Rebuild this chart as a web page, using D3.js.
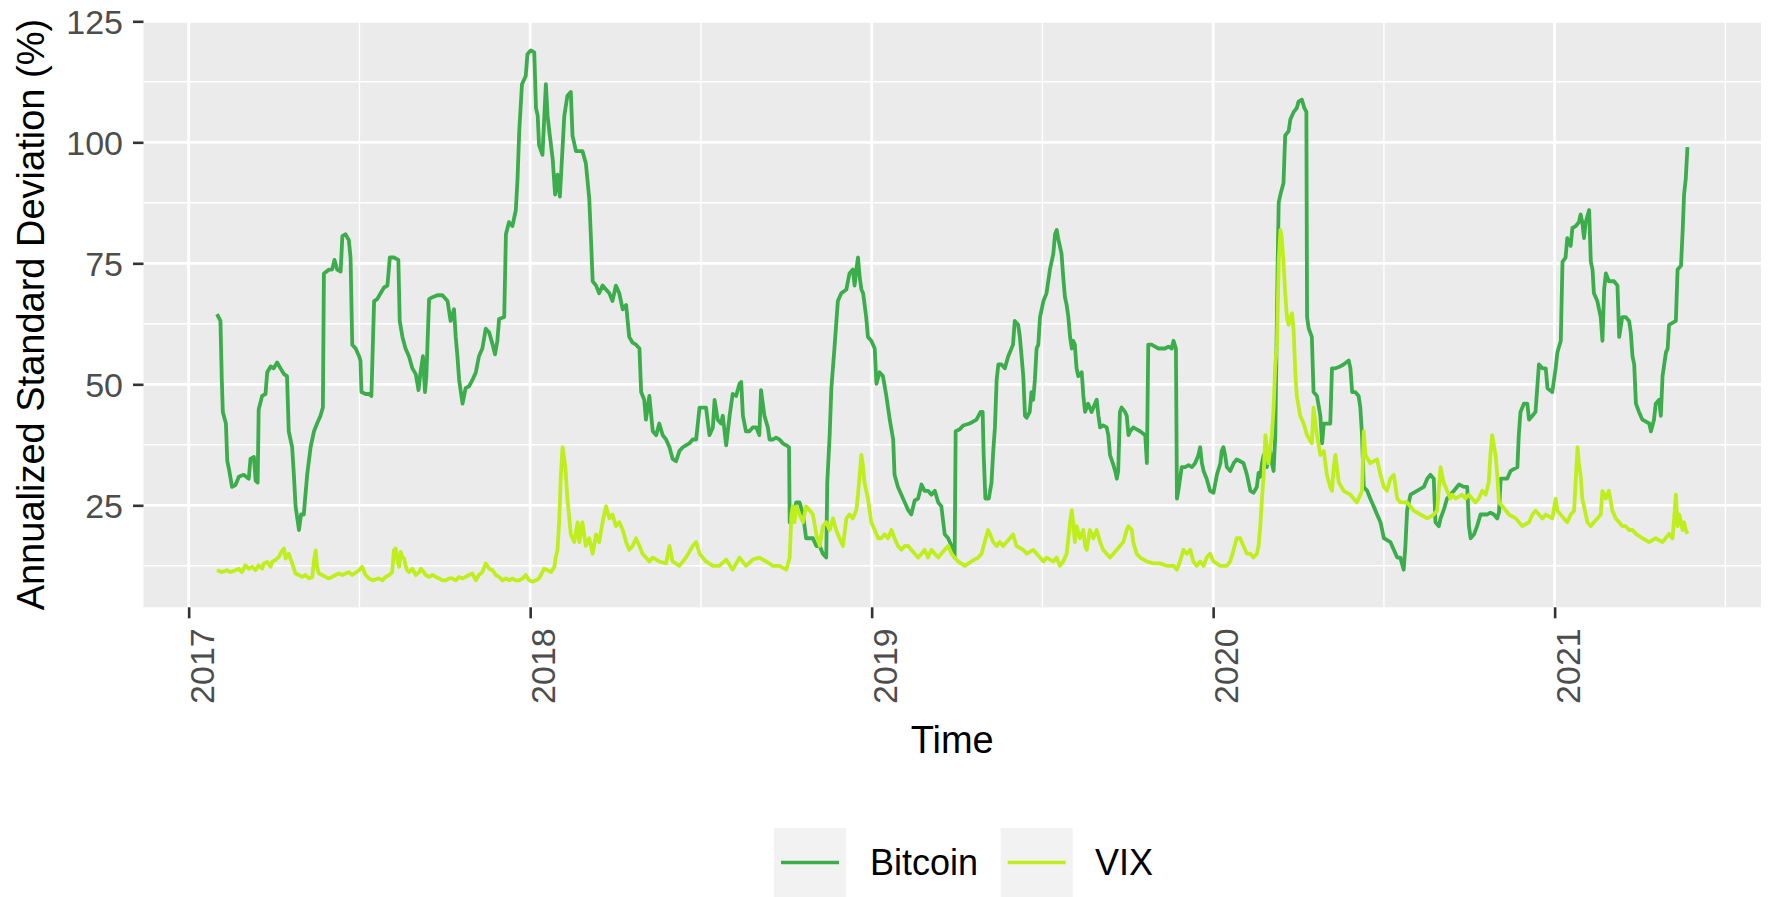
<!DOCTYPE html>
<html>
<head>
<meta charset="utf-8">
<script src="https://cdn.jsdelivr.net/npm/d3@7"></script>
<style>
  html, body { margin: 0; padding: 0; background: #ffffff; }
  svg { display: block; }
</style>
</head>
<body>
<script>
// ---------------- DATA ----------------
const seriesNames = ["Bitcoin", "VIX"];
const xTicks = [2017, 2018, 2019, 2020, 2021];
const yTicks = [25, 50, 75, 100, 125];
const xTitle = "Time";
const yTitle = "Annualized Standard Deviation (%)";

const btcYear = [2017.083,2017.093,2017.097,2017.100,2017.109,2017.113,2017.119,2017.127,2017.137,2017.147,2017.161,2017.176,2017.181,2017.191,2017.196,2017.202,2017.205,2017.215,2017.225,2017.230,2017.240,2017.249,2017.259,2017.269,2017.279,2017.288,2017.293,2017.303,2017.308,2017.313,2017.323,2017.329,2017.337,2017.347,2017.357,2017.367,2017.376,2017.386,2017.393,2017.396,2017.411,2017.420,2017.427,2017.435,2017.445,2017.450,2017.459,2017.469,2017.474,2017.479,2017.489,2017.499,2017.503,2017.506,2017.518,2017.528,2017.535,2017.543,2017.552,2017.562,2017.572,2017.582,2017.589,2017.601,2017.614,2017.618,2017.626,2017.635,2017.645,2017.655,2017.665,2017.673,2017.679,2017.686,2017.692,2017.696,2017.704,2017.714,2017.728,2017.743,2017.758,2017.767,2017.777,2017.782,2017.787,2017.792,2017.802,2017.811,2017.821,2017.831,2017.841,2017.850,2017.860,2017.870,2017.880,2017.890,2017.897,2017.904,2017.909,2017.924,2017.929,2017.938,2017.948,2017.958,2017.963,2017.968,2017.976,2017.987,2017.992,2018.002,2018.012,2018.017,2018.022,2018.026,2018.036,2018.041,2018.046,2018.051,2018.056,2018.066,2018.073,2018.080,2018.087,2018.100,2018.109,2018.119,2018.124,2018.134,2018.153,2018.163,2018.173,2018.178,2018.183,2018.193,2018.202,2018.212,2018.222,2018.232,2018.241,2018.251,2018.261,2018.271,2018.281,2018.290,2018.300,2018.310,2018.320,2018.325,2018.334,2018.339,2018.349,2018.359,2018.369,2018.378,2018.388,2018.398,2018.408,2018.417,2018.427,2018.437,2018.447,2018.456,2018.466,2018.476,2018.486,2018.496,2018.515,2018.525,2018.535,2018.540,2018.549,2018.559,2018.564,2018.574,2018.584,2018.593,2018.603,2018.613,2018.618,2018.623,2018.632,2018.642,2018.652,2018.662,2018.671,2018.676,2018.686,2018.696,2018.701,2018.711,2018.720,2018.730,2018.740,2018.750,2018.758,2018.760,2018.769,2018.779,2018.789,2018.799,2018.808,2018.828,2018.838,2018.848,2018.857,2018.867,2018.870,2018.877,2018.882,2018.891,2018.901,2018.911,2018.926,2018.935,2018.945,2018.950,2018.955,2018.960,2018.965,2018.970,2018.975,2018.984,2018.989,2018.999,2019.009,2019.014,2019.023,2019.033,2019.043,2019.053,2019.063,2019.067,2019.077,2019.087,2019.097,2019.107,2019.116,2019.126,2019.136,2019.146,2019.155,2019.165,2019.175,2019.185,2019.195,2019.204,2019.214,2019.224,2019.234,2019.243,2019.246,2019.258,2019.268,2019.287,2019.297,2019.307,2019.319,2019.325,2019.328,2019.333,2019.343,2019.351,2019.356,2019.361,2019.366,2019.371,2019.380,2019.390,2019.400,2019.414,2019.419,2019.429,2019.434,2019.439,2019.444,2019.449,2019.454,2019.463,2019.468,2019.473,2019.478,2019.483,2019.488,2019.493,2019.503,2019.512,2019.522,2019.532,2019.537,2019.542,2019.546,2019.551,2019.556,2019.561,2019.566,2019.571,2019.576,2019.581,2019.586,2019.590,2019.595,2019.600,2019.605,2019.615,2019.620,2019.625,2019.634,2019.644,2019.654,2019.659,2019.664,2019.669,2019.678,2019.688,2019.693,2019.698,2019.708,2019.713,2019.718,2019.722,2019.727,2019.732,2019.742,2019.747,2019.752,2019.757,2019.766,2019.776,2019.786,2019.801,2019.806,2019.810,2019.820,2019.830,2019.840,2019.859,2019.869,2019.879,2019.884,2019.891,2019.894,2019.898,2019.908,2019.918,2019.928,2019.938,2019.947,2019.957,2019.962,2019.967,2019.972,2019.981,2019.991,2020.001,2020.011,2020.021,2020.025,2020.030,2020.035,2020.040,2020.050,2020.060,2020.069,2020.079,2020.089,2020.099,2020.109,2020.118,2020.128,2020.133,2020.138,2020.143,2020.148,2020.157,2020.167,2020.172,2020.177,2020.182,2020.189,2020.192,2020.197,2020.206,2020.211,2020.221,2020.226,2020.236,2020.245,2020.250,2020.260,2020.267,2020.273,2020.275,2020.280,2020.289,2020.294,2020.304,2020.314,2020.319,2020.324,2020.343,2020.348,2020.358,2020.372,2020.382,2020.397,2020.402,2020.407,2020.416,2020.426,2020.431,2020.436,2020.441,2020.451,2020.460,2020.470,2020.480,2020.490,2020.500,2020.519,2020.529,2020.539,2020.548,2020.558,2020.563,2020.568,2020.578,2020.597,2020.617,2020.627,2020.636,2020.646,2020.651,2020.661,2020.666,2020.675,2020.685,2020.695,2020.705,2020.720,2020.734,2020.744,2020.749,2020.754,2020.764,2020.773,2020.783,2020.803,2020.812,2020.822,2020.832,2020.837,2020.842,2020.861,2020.871,2020.891,2020.895,2020.900,2020.910,2020.920,2020.925,2020.935,2020.944,2020.954,2020.964,2020.974,2020.979,2020.993,2021.003,2021.008,2021.018,2021.023,2021.032,2021.037,2021.047,2021.052,2021.062,2021.071,2021.076,2021.081,2021.086,2021.091,2021.101,2021.106,2021.111,2021.115,2021.125,2021.135,2021.140,2021.145,2021.150,2021.159,2021.174,2021.184,2021.189,2021.198,2021.208,2021.218,2021.223,2021.228,2021.233,2021.238,2021.247,2021.257,2021.277,2021.282,2021.291,2021.296,2021.306,2021.311,2021.316,2021.326,2021.331,2021.335,2021.355,2021.360,2021.370,2021.375,2021.379,2021.384,2021.389];
const btcValue = [64.5,63.1,50.9,44.3,41.9,34.2,32.1,28.8,29.2,30.9,31.3,30.5,34.6,35.0,30.1,29.7,44.8,47.6,48.0,52.5,53.7,53.3,54.5,53.3,52.1,51.7,40.3,37.0,31.3,24.8,19.9,23.1,23.1,31.3,37.0,40.3,41.9,43.5,45.2,72.9,73.7,73.7,75.7,73.7,73.3,80.6,81.0,79.8,76.2,58.2,57.4,55.8,54.9,48.4,48.0,48.0,47.6,67.2,67.6,68.8,70.0,70.4,76.2,76.2,75.7,63.1,59.8,57.4,55.8,53.3,52.1,48.8,52.5,55.8,48.4,51.7,67.6,68.0,68.4,68.4,67.2,63.1,65.5,59.8,55.8,50.9,46.0,49.2,49.6,50.9,52.5,55.8,57.4,61.5,60.7,58.2,56.2,59.0,63.5,63.9,81.0,83.5,82.7,86.0,92.5,102.3,112.0,113.7,118.2,119.0,118.6,107.1,105.5,99.4,97.4,104.7,112.0,105.5,102.3,96.5,89.2,93.3,88.8,105.5,109.6,110.4,101.4,98.2,98.2,95.7,88.4,80.2,71.3,70.4,68.8,70.4,69.6,68.8,67.2,70.4,68.8,65.5,66.4,59.8,58.6,58.2,57.4,48.4,46.8,42.7,47.6,40.3,39.5,41.9,39.5,38.6,37.0,34.6,34.1,36.2,37.0,37.4,37.8,38.6,38.6,45.2,45.2,39.5,41.1,46.8,42.7,41.9,43.5,37.4,43.5,48.0,47.6,50.1,50.5,43.5,40.3,40.3,41.1,41.1,39.5,48.8,43.5,41.1,38.6,38.6,39.0,38.6,37.8,37.4,37.0,21.5,22.3,25.6,25.6,23.1,18.2,18.2,16.6,16.6,15.0,14.2,29.7,39.5,49.2,57.4,67.2,68.8,69.6,72.9,73.7,70.4,73.7,76.2,72.1,69.6,68.8,63.9,59.8,59.0,57.4,50.1,52.5,51.7,47.6,42.7,38.6,31.3,28.8,27.2,25.6,24.0,23.1,26.0,26.4,29.3,28.0,28.0,27.2,28.0,25.6,24.8,19.0,18.2,16.6,14.2,40.3,40.7,41.5,41.9,42.3,42.7,44.3,44.3,35.4,26.4,26.4,29.7,36.2,41.1,50.9,54.1,54.1,53.3,55.8,58.2,63.1,62.3,59.8,55.8,51.7,43.5,43.1,44.3,48.4,46.8,50.9,57.4,58.2,63.9,67.2,68.8,73.7,77.0,81.0,81.9,80.2,78.6,77.0,72.1,68.0,66.4,63.9,59.8,57.4,59.0,58.2,53.3,51.7,52.5,47.6,44.3,46.0,44.3,46.0,46.8,43.5,41.1,41.5,41.1,39.5,35.4,33.3,32.1,30.5,32.1,44.3,45.2,44.3,43.5,39.5,40.3,41.1,40.7,40.3,39.5,33.7,58.2,58.2,57.8,57.4,57.4,57.8,57.4,59.0,57.4,26.4,28.0,32.9,32.9,33.3,32.9,33.7,35.4,37.0,33.7,32.1,30.5,28.0,27.6,31.3,33.7,36.2,37.0,35.4,32.9,32.1,33.7,34.5,34.1,33.7,31.3,28.0,27.6,28.8,31.7,30.9,33.7,35.4,32.9,36.2,33.7,32.1,39.5,75.3,87.6,89.2,91.6,101.4,102.3,104.7,106.3,107.1,108.4,108.8,107.1,106.3,63.9,61.5,59.8,48.4,47.6,43.5,37.8,41.9,41.9,53.3,53.3,53.7,54.1,54.9,53.3,48.4,48.4,47.6,45.2,39.5,28.8,28.0,26.4,24.8,23.1,21.5,18.2,17.4,15.8,14.2,14.2,11.7,16.6,24.0,27.2,28.0,28.8,30.5,31.3,30.5,21.5,20.7,22.3,24.0,26.4,27.2,28.0,29.3,28.8,28.8,20.7,18.2,19.0,20.7,23.1,23.1,23.5,23.1,22.3,23.5,30.5,30.5,32.1,32.9,39.5,44.3,46.0,46.0,42.7,43.5,44.3,54.1,53.3,53.3,49.2,48.4,53.3,56.6,59.0,75.3,76.2,80.2,78.6,82.3,82.7,83.5,85.1,83.5,80.2,83.5,86.0,75.3,73.7,68.8,67.2,63.9,59.0,69.6,72.9,71.3,71.3,70.4,59.8,63.9,63.9,63.1,60.7,55.8,54.1,46.0,44.3,42.7,41.9,40.3,42.7,46.0,46.8,43.5,51.7,56.6,57.4,62.3,63.1,73.7,74.5,81.9,89.2,92.5,99.0];

const vixYear = [2017.083,2017.098,2017.112,2017.122,2017.137,2017.147,2017.156,2017.166,2017.176,2017.186,2017.196,2017.205,2017.215,2017.220,2017.230,2017.240,2017.244,2017.254,2017.264,2017.274,2017.279,2017.284,2017.293,2017.303,2017.313,2017.323,2017.332,2017.342,2017.352,2017.362,2017.367,2017.372,2017.376,2017.381,2017.391,2017.401,2017.411,2017.420,2017.430,2017.440,2017.450,2017.469,2017.479,2017.499,2017.508,2017.518,2017.528,2017.538,2017.557,2017.567,2017.577,2017.587,2017.596,2017.601,2017.606,2017.611,2017.616,2017.621,2017.626,2017.631,2017.636,2017.640,2017.645,2017.655,2017.665,2017.675,2017.680,2017.684,2017.694,2017.704,2017.714,2017.724,2017.733,2017.743,2017.753,2017.763,2017.772,2017.782,2017.792,2017.802,2017.811,2017.821,2017.831,2017.841,2017.850,2017.860,2017.870,2017.880,2017.890,2017.899,2017.909,2017.919,2017.929,2017.939,2017.948,2017.958,2017.968,2017.978,2017.987,2017.997,2018.007,2018.017,2018.026,2018.041,2018.051,2018.061,2018.071,2018.075,2018.080,2018.085,2018.090,2018.095,2018.103,2018.109,2018.119,2018.129,2018.139,2018.144,2018.153,2018.163,2018.173,2018.183,2018.193,2018.202,2018.212,2018.222,2018.232,2018.241,2018.251,2018.261,2018.271,2018.281,2018.290,2018.300,2018.310,2018.320,2018.329,2018.339,2018.349,2018.359,2018.378,2018.398,2018.408,2018.417,2018.437,2018.456,2018.476,2018.486,2018.496,2018.515,2018.535,2018.554,2018.574,2018.593,2018.613,2018.632,2018.652,2018.671,2018.691,2018.711,2018.730,2018.750,2018.760,2018.765,2018.769,2018.774,2018.779,2018.789,2018.799,2018.808,2018.818,2018.828,2018.838,2018.848,2018.857,2018.867,2018.877,2018.887,2018.896,2018.906,2018.916,2018.926,2018.935,2018.945,2018.955,2018.960,2018.970,2018.975,2018.979,2018.989,2018.999,2019.009,2019.019,2019.028,2019.038,2019.048,2019.058,2019.067,2019.077,2019.087,2019.097,2019.107,2019.116,2019.126,2019.136,2019.146,2019.155,2019.165,2019.175,2019.185,2019.195,2019.204,2019.214,2019.224,2019.234,2019.243,2019.253,2019.273,2019.292,2019.312,2019.322,2019.331,2019.341,2019.346,2019.356,2019.366,2019.375,2019.385,2019.395,2019.405,2019.414,2019.424,2019.444,2019.454,2019.473,2019.483,2019.493,2019.503,2019.512,2019.532,2019.542,2019.551,2019.561,2019.571,2019.576,2019.581,2019.586,2019.590,2019.595,2019.600,2019.610,2019.620,2019.625,2019.630,2019.639,2019.649,2019.659,2019.669,2019.678,2019.688,2019.698,2019.708,2019.718,2019.727,2019.737,2019.747,2019.752,2019.762,2019.766,2019.776,2019.786,2019.806,2019.825,2019.845,2019.864,2019.884,2019.894,2019.903,2019.913,2019.923,2019.933,2019.942,2019.952,2019.962,2019.972,2019.981,2019.991,2020.001,2020.021,2020.040,2020.050,2020.060,2020.069,2020.079,2020.089,2020.099,2020.109,2020.118,2020.128,2020.133,2020.138,2020.143,2020.148,2020.153,2020.157,2020.162,2020.172,2020.177,2020.182,2020.187,2020.192,2020.197,2020.201,2020.206,2020.211,2020.216,2020.221,2020.226,2020.231,2020.236,2020.241,2020.245,2020.255,2020.265,2020.275,2020.289,2020.294,2020.304,2020.314,2020.324,2020.333,2020.343,2020.348,2020.353,2020.358,2020.368,2020.382,2020.402,2020.421,2020.436,2020.441,2020.446,2020.460,2020.480,2020.490,2020.500,2020.509,2020.519,2020.529,2020.539,2020.548,2020.568,2020.587,2020.607,2020.627,2020.646,2020.656,2020.666,2020.675,2020.685,2020.695,2020.700,2020.710,2020.729,2020.739,2020.749,2020.768,2020.778,2020.788,2020.798,2020.807,2020.812,2020.817,2020.827,2020.832,2020.837,2020.847,2020.866,2020.886,2020.905,2020.925,2020.935,2020.944,2020.954,2020.964,2020.974,2020.993,2021.003,2021.008,2021.027,2021.037,2021.047,2021.057,2021.067,2021.071,2021.076,2021.081,2021.086,2021.096,2021.106,2021.115,2021.125,2021.135,2021.140,2021.150,2021.159,2021.169,2021.179,2021.189,2021.198,2021.208,2021.218,2021.228,2021.238,2021.257,2021.277,2021.296,2021.316,2021.335,2021.345,2021.350,2021.355,2021.360,2021.365,2021.375,2021.379,2021.384,2021.389];
const vixValue = [11.6,11.2,11.6,11.2,11.6,11.9,11.2,12.6,11.9,12.3,11.6,12.6,11.9,13.0,13.3,12.3,13.3,13.7,14.3,15.7,16.1,14.0,15.0,13.0,10.9,10.6,10.2,10.6,9.9,10.2,13.7,15.7,12.3,10.9,10.6,10.2,9.9,10.2,10.6,10.9,10.6,11.2,10.6,11.6,12.3,10.6,9.9,9.5,9.9,9.5,10.2,10.6,11.2,15.7,16.1,13.7,12.3,15.4,14.3,14.0,12.3,11.6,11.2,11.9,10.6,11.2,11.9,11.6,10.6,10.2,10.6,10.2,9.9,9.5,9.5,9.9,9.9,9.5,10.2,9.9,10.2,10.6,10.9,9.5,10.6,11.2,13.0,11.9,11.6,10.6,10.2,9.5,9.9,9.5,9.9,9.5,9.5,9.9,10.6,9.5,9.2,9.5,9.9,11.9,11.6,11.2,12.3,14.3,15.7,21.7,31.3,37.0,32.9,26.4,19.0,17.4,21.5,17.4,21.5,16.6,18.2,15.0,19.0,17.4,21.5,24.8,22.3,23.1,20.7,21.5,19.9,17.4,15.8,16.6,18.2,16.6,15.0,14.2,13.4,14.2,13.4,13.0,16.6,13.4,12.5,14.2,16.6,17.4,15.0,13.4,12.5,12.5,13.8,11.7,14.2,12.5,13.8,14.2,13.4,12.5,12.5,11.7,14.2,23.1,24.8,21.5,24.8,23.1,21.5,24.8,24.0,23.1,19.0,16.6,20.7,21.5,19.9,22.3,19.9,18.2,16.6,22.3,23.1,22.3,24.0,27.2,35.4,32.9,29.7,26.4,21.5,19.9,18.2,18.2,19.0,18.2,19.9,18.2,16.6,15.8,16.6,16.6,15.8,15.0,14.2,15.0,15.8,14.2,15.8,15.0,14.2,15.0,15.8,16.6,15.0,14.2,13.4,12.5,13.4,14.2,15.0,17.4,19.9,19.1,17.4,16.6,17.4,16.6,17.4,18.2,19.0,16.6,15.8,15.0,15.8,15.0,14.2,13.4,14.2,13.4,14.2,12.5,13.4,15.0,18.2,21.5,24.0,21.5,17.4,20.7,18.2,19.9,16.6,15.8,19.9,18.2,19.9,17.4,15.8,15.0,14.2,15.0,15.8,16.6,17.4,19.9,20.7,19.9,17.4,15.0,14.2,13.4,13.0,13.0,12.5,12.5,11.7,13.4,15.8,15.0,15.8,13.4,12.5,13.4,12.5,14.2,15.0,13.4,12.5,12.5,13.4,15.8,18.2,18.2,16.6,15.0,15.0,14.2,15.0,16.6,20.7,26.4,31.3,39.5,37.0,33.7,39.5,45.2,54.1,58.2,75.3,81.9,80.2,75.3,68.8,63.9,62.3,63.9,64.7,60.7,51.7,47.6,43.5,41.9,39.5,37.8,45.2,39.5,35.4,36.2,31.3,28.8,28.0,32.9,35.4,29.7,28.0,27.2,25.6,28.0,40.3,35.4,33.7,34.5,31.3,28.8,28.0,30.5,31.3,26.4,25.6,25.6,23.9,23.1,22.3,23.1,23.9,32.9,29.7,28.0,26.4,27.2,26.4,27.2,26.4,27.2,25.6,26.4,28.0,27.2,29.7,35.4,39.5,35.4,31.3,25.6,24.8,23.1,22.3,20.7,21.5,23.1,23.9,23.1,22.3,23.1,22.3,26.4,23.9,22.3,21.5,23.1,23.9,37.0,33.7,31.3,26.4,24.8,21.5,20.7,21.5,22.3,23.1,28.0,26.4,28.0,23.9,22.3,21.5,20.7,20.7,19.9,19.9,19.1,18.2,17.4,18.2,17.4,19.1,18.2,22.3,27.2,20.7,23.1,19.9,21.5,19.9,19.1];

const seriesColors = ["#3BAE4B", "#BEEF1D"];

// ---------------- LAYOUT ----------------
const W = 1769, H = 897;
const P = { left: 143.5, right: 1761, top: 22, bottom: 607.3 };
const FONT = "'Liberation Sans', Arial, Helvetica, sans-serif";

const svg = d3.select("body").append("svg")
  .attr("width", W).attr("height", H)
  .style("font-family", FONT);

svg.append("rect").attr("width", W).attr("height", H).attr("fill", "#ffffff");

// scales (ggplot-style 5% expansion on x)
const allYears = btcYear.concat(vixYear);
const xMin = d3.min(allYears), xMax = d3.max(allYears);
const xPad = (xMax - xMin) * 0.05;
const x = d3.scaleLinear().domain([xMin - xPad, xMax + xPad]).range([P.left, P.right]);
const y = d3.scaleLinear().domain([3.93, 124.86]).range([P.bottom, P.top]);

// panel
svg.append("rect")
  .attr("x", P.left).attr("y", P.top)
  .attr("width", P.right - P.left).attr("height", P.bottom - P.top)
  .attr("fill", "#EBEBEB");

const grid = svg.append("g");
// minor grid
const xMinor = d3.range(2016.5, 2022, 1).filter(v => v > x.domain()[0] && v < x.domain()[1]);
const yMinor = d3.range(12.5, 130, 25).filter(v => v > y.domain()[0] && v < y.domain()[1]);
grid.selectAll(".ymin").data(yMinor).enter().append("line")
  .attr("x1", P.left).attr("x2", P.right)
  .attr("y1", d => y(d)).attr("y2", d => y(d))
  .attr("stroke", "#ffffff").attr("stroke-width", 1.4);
grid.selectAll(".xmin").data(xMinor).enter().append("line")
  .attr("y1", P.top).attr("y2", P.bottom)
  .attr("x1", d => x(d)).attr("x2", d => x(d))
  .attr("stroke", "#ffffff").attr("stroke-width", 1.4);
// major grid
grid.selectAll(".ymaj").data(yTicks).enter().append("line")
  .attr("x1", P.left).attr("x2", P.right)
  .attr("y1", d => y(d)).attr("y2", d => y(d))
  .attr("stroke", "#ffffff").attr("stroke-width", 2.8);
grid.selectAll(".xmaj").data(xTicks).enter().append("line")
  .attr("y1", P.top).attr("y2", P.bottom)
  .attr("x1", d => x(d)).attr("x2", d => x(d))
  .attr("stroke", "#ffffff").attr("stroke-width", 2.8);

// lines
const series = [
  { name: seriesNames[0], color: seriesColors[0], pts: btcYear.map((t, i) => [t, btcValue[i]]) },
  { name: seriesNames[1], color: seriesColors[1], pts: vixYear.map((t, i) => [t, vixValue[i]]) }
];
const line = d3.line().x(d => x(d[0])).y(d => y(d[1]));
svg.append("clipPath").attr("id", "pclip").append("rect")
  .attr("x", P.left).attr("y", P.top).attr("width", P.right - P.left).attr("height", P.bottom - P.top);
svg.append("g").attr("clip-path", "url(#pclip)")
  .selectAll("path").data(series).enter().append("path")
  .attr("d", d => line(d.pts))
  .attr("fill", "none")
  .attr("stroke", d => d.color)
  .attr("stroke-width", 3.8)
  .attr("stroke-linejoin", "round")
  .attr("stroke-linecap", "butt");

// axes
const gx = svg.append("g")
  .attr("transform", `translate(0,${P.bottom})`)
  .call(d3.axisBottom(x).tickValues(xTicks).tickFormat(d3.format("d")).tickSizeInner(11).tickSizeOuter(0));
gx.attr("font-family", FONT).attr("font-size", null);
gx.select(".domain").remove();
gx.selectAll(".tick line").attr("stroke", "#333333").attr("stroke-width", 2.6);
gx.selectAll(".tick text")
  .attr("transform", "rotate(-90)")
  .attr("x", -21).attr("y", 0).attr("dy", "0.72em")
  .style("text-anchor", "end")
  .attr("fill", "#4D4D4D")
  .style("font-size", "34px");

const gy = svg.append("g")
  .attr("transform", `translate(${P.left},0)`)
  .call(d3.axisLeft(y).tickValues(yTicks).tickSizeInner(10.5).tickSizeOuter(0).tickPadding(10));
gy.attr("font-family", FONT).attr("font-size", null);
gy.select(".domain").remove();
gy.selectAll(".tick line").attr("stroke", "#333333").attr("stroke-width", 2.6);
gy.selectAll(".tick text")
  .attr("fill", "#4D4D4D")
  .attr("dy", "0.36em")
  .style("font-size", "34px");

// axis titles
svg.append("text")
  .attr("x", (P.left + P.right) / 2).attr("y", 753)
  .attr("text-anchor", "middle")
  .attr("fill", "#000000")
  .style("font-size", "38px")
  .text(xTitle);

svg.append("text")
  .attr("transform", `translate(44,${(P.top + P.bottom) / 2}) rotate(-90)`)
  .attr("text-anchor", "middle")
  .attr("fill", "#000000")
  .style("font-size", "38px")
  .text(yTitle);

// legend
const legendX = [774, 1000.7];
const legendTextX = [870, 1095];
const keyW = 72, keyH = 69, keyY = 828;
const lg = svg.append("g");
series.forEach((s, i) => {
  lg.append("rect")
    .attr("x", legendX[i]).attr("y", keyY)
    .attr("width", keyW).attr("height", keyH)
    .attr("fill", "#F2F2F2");
  lg.append("line")
    .attr("x1", legendX[i] + 7).attr("x2", legendX[i] + keyW - 7)
    .attr("y1", keyY + keyH / 2).attr("y2", keyY + keyH / 2)
    .attr("stroke", s.color).attr("stroke-width", 3.6);
  lg.append("text")
    .attr("x", legendTextX[i]).attr("y", keyY + keyH / 2)
    .attr("dy", "0.36em")
    .attr("fill", "#000000")
    .style("font-size", "36px")
    .text(s.name);
});
</script>
</body>
</html>
